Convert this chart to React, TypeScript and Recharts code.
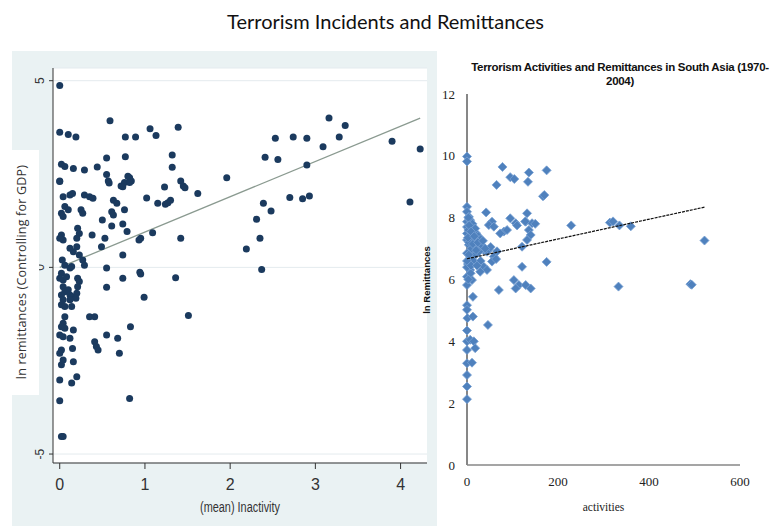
import { CartesianGrid, Scatter, ScatterChart, XAxis, YAxis } from "recharts";

const mainTitle = "Terrorism Incidents and Remittances";
const stataXLabel = "(mean) Inactivity";
const stataYLabel = "ln remittances (Controlling for GDP)";
const excelTitle = ["Terrorism Activities and Remittances in South Asia (1970-", "2004)"];
const excelXLabel = "activities";
const excelYLabel = "ln Remittances";

const stataXTicks = [0, 1, 2, 3, 4];
const stataYTicks = [-5, 0, 5];
const excelXTicks = [0, 200, 400, 600];
const excelYTicks = [0, 2, 4, 6, 8, 10, 12];

// left panel: (mean) inactivity vs ln remittances net of GDP
const stataPoints: [number, number][] = [
  [0, 4.87], [0, 3.62], [0.1, 3.56], [0.19, 3.49], [0.59, 3.93], [0.77, 3.49], [0.89, 3.49], [1.06, 3.71], [1.13, 3.53], [1.39, 3.75],
  [0.55, 2.93], [0.77, 2.96], [1.32, 3.01], [1.32, 2.68], [0.02, 2.76], [0.06, 2.7], [0.16, 2.65], [0.29, 2.61], [0.44, 2.69],
  [0, 2.31], [0.55, 2.49], [0.57, 2.31], [0.72, 2.18], [0.8, 2.44], [0.82, 2.4], [0.84, 2.31], [0.76, 2.27],
  [1.42, 2.31], [1.45, 2.18], [1.47, 2.13], [1.96, 2.4], [1.62, 1.98], [1.23, 2.15], [1.02, 1.86], [1.15, 1.72], [1.24, 1.69], [1.27, 1.73], [1.3, 1.8],
  [1.09, 0.93], [0.95, 0.78], [1.42, 0.78],
  [2.7, 1.87], [2.85, 1.84], [2.93, 1.91], [4.11, 1.75], [2.39, 1.72], [2.48, 1.51], [2.31, 1.29], [2.35, 0.78], [2.19, 0.49], [2.37, -0.06],
  [2.41, 2.95], [2.56, 2.89], [2.53, 3.46], [2.74, 3.49], [2.9, 3.46], [2.9, 2.74], [3.09, 3.23], [3.16, 4.0], [3.28, 3.49], [3.35, 3.8], [3.9, 3.38], [4.23, 3.17],
  [0.94, -0.13], [0.95, -0.18], [1.36, -0.28], [0.99, -0.8], [1.51, -1.29],
  [0, 2.3], [0.58, 2.26], [0.74, 2.16], [0.82, 2.27],
  [0.04, 1.89], [0.12, 1.94], [0.15, 1.98], [0.29, 1.94], [0.35, 1.89], [0.39, 1.85], [0.63, 1.8], [0.67, 1.72],
  [0.06, 1.63], [0.1, 1.54], [0.02, 1.45], [0.04, 1.36], [0.25, 1.54], [0.27, 1.45], [0.61, 1.49], [0.63, 1.4], [0.5, 1.27], [0.76, 1.54], [0.79, 0.96], [0.38, 0.87],
  [0.61, 1.11], [0.74, 1.16],
  [0.21, 1.05], [0.23, 0.91], [0.2, 0.78], [0.02, 0.87], [0.04, 0.73], [0, 0.78],
  [0.12, 0.51], [0.16, 0.42], [0.2, 0.55], [0.23, 0.33], [0.27, 0.2], [0.29, 0.06], [0.53, 0.78], [0.49, 0.55], [0.74, 0.33], [0.93, 0.73],
  [0.03, 0.2], [0.06, 0.06], [0.12, -0.02], [0.14, 0.02], [0.02, -0.16], [0, -0.29], [0.04, -0.34], [0.08, -0.25], [0.21, -0.29], [0.23, -0.38],
  [0.55, -0.02], [0.74, -0.29], [0.55, -0.53],
  [0.04, -0.52], [0.06, -0.65], [0.02, -0.74], [0.1, -0.6], [0.12, -0.74], [0.14, -0.78], [0.21, -0.52], [0.2, -0.69], [0.19, -0.83],
  [0.04, -0.87], [0.02, -1.0], [0.06, -1.05], [0.14, -1.05], [0.12, -0.87],
  [0.83, -1.59], [0.35, -1.32], [0.41, -1.32],
  [0.06, -1.32], [0.04, -1.5], [0.02, -1.59], [0.06, -1.63], [0, -1.81], [0.04, -1.86], [0.16, -1.68], [0.12, -1.9],
  [0.41, -1.99], [0.43, -2.12], [0.45, -2.21], [0.55, -1.81], [0.68, -1.9], [0.7, -2.3],
  [0.02, -2.21], [0, -2.3], [0.04, -2.48], [0.02, -2.61], [0.15, -2.17], [0.16, -2.53],
  [0.2, -2.93], [0.14, -3.1], [0, -3.02], [0, -3.57], [0.82, -3.51], [0.02, -4.53], [0.04, -4.53],
];
const stataFit: [number, number][] = [[0, 0.0], [4.23, 4.0]];

// right panel: activities vs ln remittances
const excelPoints: [number, number][] = [
  [0, 9.98], [0, 9.82], [78, 9.64], [95, 9.31], [104, 9.25], [136, 9.46], [134, 9.16], [175, 9.53], [65, 9.06], [167, 8.69], [170, 8.73],
  [0, 8.35], [0, 8.19], [4, 8.03], [0, 7.87], [7, 7.92], [42, 8.17],
  [55, 7.87], [48, 7.76], [59, 7.71], [81, 7.55], [73, 7.49], [88, 7.6], [95, 7.98], [107, 7.82], [132, 8.14], [129, 7.87], [143, 7.82], [150, 7.8],
  [136, 7.6], [140, 7.44], [132, 7.28], [121, 7.06],
  [0, 7.49], [7, 7.38], [0, 7.28], [15, 7.28], [4, 7.12], [22, 7.17], [29, 7.01], [37, 6.95], [44, 6.9], [11, 6.95], [0, 6.85], [18, 6.79], [7, 6.69],
  [59, 6.74], [55, 6.58], [37, 6.41], [44, 6.31], [29, 6.25], [7, 6.31], [0, 6.09], [11, 5.98], [0, 5.82],
  [0, 7.7], [3, 7.6], [5, 7.2], [10, 7.0], [2, 6.5], [14, 6.6], [20, 7.5], [25, 7.4], [30, 7.3], [33, 7.1], [3, 8.0], [12, 7.8], [18, 7.65], [26, 6.9],
  [48, 6.97], [52, 7.05], [8, 6.2], [3, 6.0], [0, 6.4], [0, 6.6],
  [5, 7.75], [9, 7.55], [2, 7.35], [13, 7.15], [20, 6.95], [16, 7.4], [24, 7.2], [4, 6.8], [9, 6.45], [35, 7.25], [40, 7.0], [30, 6.6], [22, 6.45],
  [121, 6.41], [103, 5.98], [114, 5.82], [129, 5.82], [140, 5.71], [107, 5.71], [70, 5.66], [13, 5.44], [0, 5.17],
  [66, 6.91], [64, 6.66], [175, 6.57], [110, 7.75], [128, 7.88], [229, 7.75], [314, 7.84], [321, 7.88], [335, 7.75], [360, 7.72], [522, 7.26],
  [333, 5.77], [491, 5.85], [494, 5.83],
  [0, 5.02], [1, 4.75], [13, 4.8], [46, 4.53], [0, 4.35], [0, 4.0], [7, 4.05], [15, 4.0], [0, 3.72], [18, 3.78], [0, 3.29], [11, 3.31],
  [0, 2.91], [0, 2.54], [0, 2.13],
];
const excelTrend: [number, number][] = [[0, 6.67], [522, 8.34]];

const toXY = (rows: [number, number][]) => rows.map(([x, y]) => ({ x, y }));

function StataYTick({ x, y, payload }: any) {
  return (
    <text x={x} y={y} transform={`rotate(-90 ${x} ${y})`} textAnchor="middle" fill="#333" fontSize={12} fontFamily="'Liberation Sans', Arial">
      {payload.value}
    </text>
  );
}

function Diamond({ cx, cy }: any) {
  const r = 4.5;
  return (
    <path d={`M${cx},${cy - r}L${cx + r},${cy}L${cx},${cy + r}L${cx - r},${cy}Z`} fill="#4f81bd" stroke="#79a1d3" strokeWidth={0.8} />
  );
}

const noMarker = () => <g />;

const excelTitleStyle = {
  position: "absolute" as const,
  left: 440,
  width: 360,
  textAlign: "center" as const,
  fontFamily: "'Liberation Sans', Arial",
  fontWeight: "bold" as const,
  fontSize: 11.5,
  letterSpacing: -0.3,
  lineHeight: "14px",
  color: "#111",
};

export default function App() {
  return (
    <div style={{ position: "absolute", left: 0, top: 0, width: 771, height: 526, background: "#fff", overflow: "hidden" }}>
      <div style={{ position: "absolute", left: 0, top: 9, width: 771, textAlign: "center", fontFamily: "Lato, 'Open Sans', sans-serif", fontSize: 20, color: "#111" }}>
        {mainTitle}
      </div>

      {/* Stata panel */}
      <div style={{ position: "absolute", left: 12, top: 51, width: 425, height: 475, background: "#eaf2f3" }}>
        <ScatterChart width={425} height={475} margin={{ top: 17, right: 10, bottom: 0, left: 0 }}>
          <CartesianGrid horizontal vertical={false} fill="#ffffff" stroke="#e4ebee" />
          <XAxis
            type="number"
            dataKey="x"
            domain={[-0.079, 4.31]}
            ticks={stataXTicks}
            allowDataOverflow
            height={63}
            tickSize={6}
            tickMargin={10}
            stroke="#333"
            tick={{ fill: "#333", fontSize: 16, fontFamily: "'Liberation Sans Narrow', Arial" }}
            label={(props: any) => {
              const vb = props.viewBox;
              return (
                <text x={vb.x + vb.width / 2} y={vb.y + 49} textAnchor="middle" fill="#333" fontSize={14} fontFamily="'Liberation Sans Narrow', Arial" textLength={80} lengthAdjust="spacingAndGlyphs">
                  {stataXLabel}
                </text>
              );
            }}
          />
          <YAxis
            type="number"
            dataKey="y"
            domain={[-5.24, 5.34]}
            ticks={stataYTicks}
            allowDataOverflow
            width={41}
            tickSize={4}
            tickMargin={5}
            stroke="#333"
            tick={<StataYTick />}
          />
          <Scatter data={toXY(stataFit)} line={{ stroke: "#8a9a90", strokeWidth: 1.3 }} shape={noMarker} isAnimationActive={false} />
          <Scatter data={toXY(stataPoints)} fill="#1b3a5e" isAnimationActive={false} shape={(p: any) => <circle cx={p.cx} cy={p.cy} r={3.5} fill="#1b3a5e" />} />
        </ScatterChart>
      </div>

      <div style={{ position: "absolute", left: 12, top: 150, width: 27, height: 245, background: "#fff" }}>
        <div style={{ position: "absolute", left: 9, top: 122, transform: "translate(-50%, -50%) rotate(-90deg)", whiteSpace: "nowrap", fontFamily: "'Open Sans', sans-serif", fontSize: 12.5, letterSpacing: 0.2, color: "#333" }}>
          {stataYLabel}
        </div>
      </div>

      {/* Excel panel */}
      <div style={{ position: "absolute", left: 420, top: 51, width: 351, height: 475 }}>
        <ScatterChart width={351} height={475} margin={{ top: 43, right: 31, bottom: 0, left: 0 }}>
          <XAxis
            type="number"
            dataKey="x"
            domain={[0, 600]}
            ticks={excelXTicks}
            height={61}
            tickLine={false}
            tickSize={0}
            tickMargin={12}
            stroke="#878787"
            strokeWidth={1.3}
            tick={{ fill: "#222", fontSize: 13, fontFamily: "'Liberation Serif', serif" }}
            label={(props: any) => {
              const vb = props.viewBox;
              return (
                <text x={vb.x + vb.width / 2} y={vb.y + 46} textAnchor="middle" fill="#222" fontSize={11.5} fontFamily="'Liberation Serif', serif">
                  {excelXLabel}
                </text>
              );
            }}
          />
          <YAxis
            type="number"
            dataKey="y"
            domain={[0, 12]}
            ticks={excelYTicks}
            width={47}
            tickLine={false}
            tickSize={0}
            tickMargin={12}
            stroke="#878787"
            strokeWidth={2}
            tick={{ fill: "#222", fontSize: 13, fontFamily: "'Liberation Serif', serif" }}
            label={(props: any) => {
              const vb = props.viewBox;
              const cx = 10;
              const cy = vb.y + 186;
              return (
                <text x={cx} y={cy} transform={`rotate(-90 ${cx} ${cy})`} textAnchor="middle" fill="#111" fontSize={9.5} fontWeight="bold" fontFamily="'Liberation Sans', Arial">
                  {excelYLabel}
                </text>
              );
            }}
          />
          <Scatter data={toXY(excelPoints)} shape={<Diamond />} isAnimationActive={false} />
          <Scatter data={toXY(excelTrend)} line={{ stroke: "#111", strokeWidth: 1.2, strokeDasharray: "3 1" }} shape={noMarker} isAnimationActive={false} />
        </ScatterChart>
      </div>

      <div style={{ ...excelTitleStyle, top: 60 }}>{excelTitle[0]}</div>
      <div style={{ ...excelTitleStyle, top: 74 }}>{excelTitle[1]}</div>
    </div>
  );
}
